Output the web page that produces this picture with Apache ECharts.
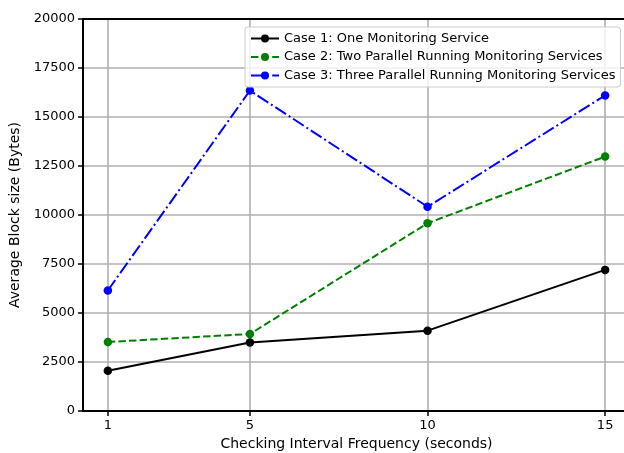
<!DOCTYPE html>
<html>
<head>
<meta charset="utf-8">
<script src="https://cdn.jsdelivr.net/npm/echarts@6/dist/echarts.min.js"></script>
<style>html,body{margin:0;padding:0;background:#fff}#c{width:624px;height:453px}</style>
</head>
<body>
<div id="c"></div>
<script>
const xValues = [1, 5, 10, 15];
const case1 = [2050, 3500, 4100, 7200];
const case2 = [3520, 3930, 9580, 12980];
const case3 = [6150, 16350, 10420, 16100];
const seriesNames = [
  'Case 1: One Monitoring Service',
  'Case 2: Two Parallel Running Monitoring Services',
  'Case 3: Three Parallel Running Monitoring Services'
];
const xTicks = [1, 5, 10, 15];

const font = 'DejaVu Sans';
const chart = echarts.init(document.getElementById('c'), null, {renderer: 'canvas'});
function pts(arr) { return xValues.map((x, i) => [x, arr[i]]); }
const X_MIN = 0.3, X_MAX = 15.7;
chart.setOption({
  animation: false,
  backgroundColor: '#fff',
  textStyle: {fontFamily: font},
  grid: {left: 83, right: -6, top: 19, bottom: 42, show: false, containLabel: false, outerBoundsMode: 'none'},
  legend: {
    orient: 'vertical', left: 245, top: 27,
    padding: [5, 5, 5, 5], itemGap: 5.5, itemWidth: 28, itemHeight: 10,
    backgroundColor: 'rgba(255,255,255,0.8)', borderColor: '#cccccc', borderWidth: 1, borderRadius: 3,
    textStyle: {fontFamily: font, fontSize: 13, color: '#000'},
    data: seriesNames
  },
  xAxis: [{
    type: 'value', min: X_MIN, max: X_MAX,
    name: 'Checking Interval Frequency (seconds)', nameLocation: 'middle', nameGap: 26.5,
    nameTextStyle: {fontFamily: font, fontSize: 14, color: '#000'},
    axisLine: {show: true, lineStyle: {color: '#000', width: 2}},
    axisTick: {show: true, length: 5, lineStyle: {color: '#000', width: 1.5}, customValues: xTicks},
    axisLabel: {customValues: xTicks, fontFamily: font, fontSize: 13, color: '#000', margin: 8},
    splitLine: {show: true, lineStyle: {color: '#b0b0b0', width: 1.6}}
  }, {
    type: 'value', min: X_MIN, max: X_MAX, position: 'top',
    axisLine: {show: true, lineStyle: {color: '#000', width: 2}},
    axisTick: {show: false}, axisLabel: {show: false}, splitLine: {show: false}
  }],
  yAxis: {
    type: 'value', min: 0, max: 20000, interval: 2500,
    name: 'Average Block size (Bytes)', nameLocation: 'middle', nameGap: 59,
    nameTextStyle: {fontFamily: font, fontSize: 14, color: '#000'},
    axisLine: {show: true, lineStyle: {color: '#000', width: 2}},
    axisTick: {show: true, length: 5, lineStyle: {color: '#000', width: 1.5}},
    axisLabel: {fontFamily: font, fontSize: 13, color: '#000', margin: 8, formatter: v => String(v)},
    splitLine: {show: true, lineStyle: {color: '#b0b0b0', width: 1.6}}
  },
  series: [
    {name: seriesNames[0], type: 'line', data: pts(case1), symbol: 'circle', symbolSize: 8.5,
     itemStyle: {color: '#000000'}, lineStyle: {color: '#000000', width: 2, type: 'solid'}},
    {name: seriesNames[1], type: 'line', data: pts(case2), symbol: 'circle', symbolSize: 8.5,
     itemStyle: {color: '#008000'}, lineStyle: {color: '#008000', width: 2, type: [7.4, 3.2]}},
    {name: seriesNames[2], type: 'line', data: pts(case3), symbol: 'circle', symbolSize: 8.5,
     itemStyle: {color: '#0000ff'}, lineStyle: {color: '#0000ff', width: 2, type: [12.8, 3.2, 2, 3.2]}}
  ]
});
</script>
</body>
</html>
